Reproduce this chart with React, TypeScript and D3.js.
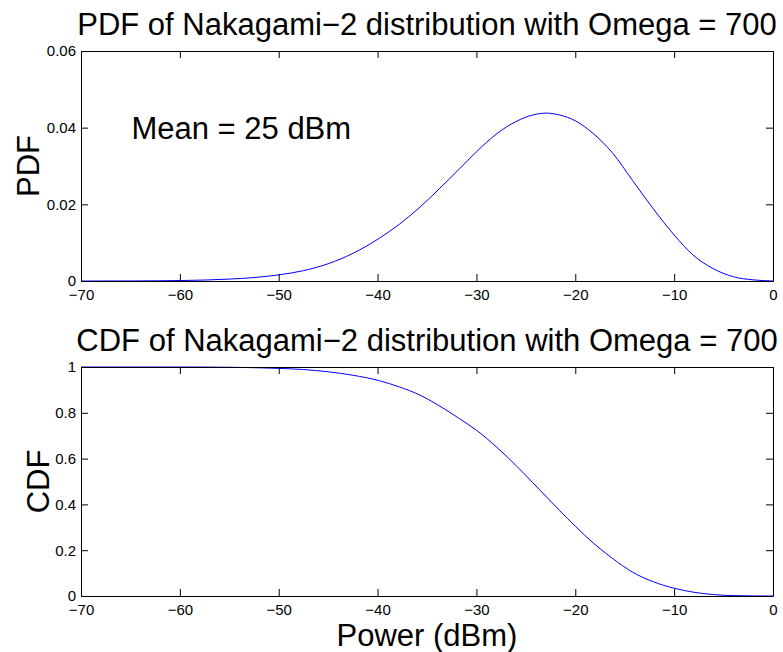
import React, { useEffect, useRef } from 'react';
import * as d3 from 'd3';

// values
const powerDbm = [-70, -65, -60, -57.5, -55, -52.5, -50, -47.5, -45, -42.5, -39.8, -37.8, -35.7, -33.7, -31.7, -30, -28, -26, -24.3, -22.9, -21.6, -20, -18.2, -16.2, -14.2, -12.1, -10, -8.1, -6.1, -4, -2, 0];
const pdfValues = [0, 0.00002, 0.00012, 0.00025, 0.0005, 0.0009, 0.0016, 0.0027, 0.0045, 0.0072, 0.0112, 0.0148, 0.0193, 0.0242, 0.0293, 0.0337, 0.0383, 0.0416, 0.0433, 0.0438, 0.0433, 0.0418, 0.0385, 0.0333, 0.0262, 0.0188, 0.012, 0.0068, 0.0033, 0.0011, 0.0003, 0];
const cdfValues = [1, 1, 1, 0.9997, 0.999, 0.997, 0.994, 0.989, 0.979, 0.964, 0.94, 0.913, 0.877, 0.829, 0.774, 0.724, 0.652, 0.57, 0.495, 0.432, 0.374, 0.305, 0.232, 0.163, 0.104, 0.062, 0.034, 0.017, 0.0065, 0.0017, 0.0003, 0];

const xTicks = [-70, -60, -50, -40, -30, -20, -10, 0];
const xTickLabels = ['\u221270', '\u221260', '\u221250', '\u221240', '\u221230', '\u221220', '\u221210', '0'];
const pdfTicks = [0, 0.02, 0.04, 0.06];
const pdfTickLabels = ['0', '0.02', '0.04', '0.06'];
const cdfTicks = [0, 0.2, 0.4, 0.6, 0.8, 1];
const cdfTickLabels = ['0', '0.2', '0.4', '0.6', '0.8', '1'];

const FONT = '"Liberation Sans", Arial, Helvetica, sans-serif';

const App = () => {
  const svgRef = useRef<SVGSVGElement>(null);

  useEffect(() => {
    const width = 783;
    const height = 652;
    const left = 81;
    const right = 773;
    const tick = 7;

    const svg = d3.select(svgRef.current)
      .attr('width', width)
      .attr('height', height);
    svg.selectAll('*').remove();

    const x = d3.scaleLinear().domain([-70, 0]).range([left, right]);

    const drawPanel = (
      top: number,
      bottom: number,
      yDomain: [number, number],
      yTicks: number[],
      yLabels: string[],
      values: number[],
      title: string,
      ylabel: string,
      ylabelX: number
    ) => {
      const y = d3.scaleLinear().domain(yDomain).range([bottom, top]);
      const g = svg.append('g');

      g.append('rect')
        .attr('x', left).attr('y', top)
        .attr('width', right - left).attr('height', bottom - top)
        .attr('fill', '#fff');

      // curve
      const line = d3.line<number>()
        .x((_, i) => x(powerDbm[i]))
        .y(d => y(d))
        .curve(d3.curveMonotoneX);
      g.append('path')
        .datum(values)
        .attr('d', line)
        .attr('fill', 'none')
        .attr('stroke', '#0000ff')
        .attr('stroke-width', 1);

      // axes with inward ticks on all four sides
      const bottomAxis = d3.axisBottom(x)
        .tickValues(xTicks)
        .tickFormat((_, i) => xTickLabels[i])
        .tickSizeInner(-tick).tickSizeOuter(0).tickPadding(8);
      const topAxis = d3.axisTop(x)
        .tickValues(xTicks).tickFormat(() => '')
        .tickSizeInner(-tick).tickSizeOuter(0);
      const leftAxis = d3.axisLeft(y)
        .tickValues(yTicks)
        .tickFormat((_, i) => yLabels[i])
        .tickSizeInner(-tick).tickSizeOuter(0).tickPadding(5);
      const rightAxis = d3.axisRight(y)
        .tickValues(yTicks).tickFormat(() => '')
        .tickSizeInner(-tick).tickSizeOuter(0);

      const axes = [
        g.append('g').attr('transform', `translate(0,${bottom})`).call(bottomAxis),
        g.append('g').attr('transform', `translate(0,${top})`).call(topAxis),
        g.append('g').attr('transform', `translate(${left},0)`).call(leftAxis),
        g.append('g').attr('transform', `translate(${right},0)`).call(rightAxis),
      ];
      axes.forEach(a => {
        a.selectAll('path, line').attr('stroke', '#000').attr('stroke-width', 1);
        a.selectAll('text')
          .style('font-family', FONT)
          .style('font-size', '15px')
          .attr('fill', '#000');
      });

      // title
      g.append('text')
        .attr('x', (left + right) / 2)
        .attr('y', top - 16)
        .attr('text-anchor', 'middle')
        .style('font-family', FONT)
        .style('font-size', '31px')
        .text(title);

      // y label
      g.append('text')
        .attr('transform', `translate(${ylabelX},${(top + bottom) / 2}) rotate(-90)`)
        .attr('text-anchor', 'middle')
        .style('font-family', FONT)
        .style('font-size', '31px')
        .text(ylabel);

      return y;
    };

    const yPdf = drawPanel(51, 281, [0, 0.06], pdfTicks, pdfTickLabels, pdfValues,
      'PDF of Nakagami\u22122 distribution with Omega = 700', 'PDF', 39);
    drawPanel(367, 596, [0, 1], cdfTicks, cdfTickLabels, cdfValues,
      'CDF of Nakagami\u22122 distribution with Omega = 700', 'CDF', 49);

    // annotation
    svg.append('text')
      .attr('x', x(-64.9))
      .attr('y', yPdf(0.0371))
      .style('font-family', FONT)
      .style('font-size', '31px')
      .text('Mean = 25 dBm');

    // x label
    svg.append('text')
      .attr('x', (left + right) / 2)
      .attr('y', 646)
      .attr('text-anchor', 'middle')
      .style('font-family', FONT)
      .style('font-size', '31px')
      .text('Power (dBm)');
  }, []);

  return (
    <svg ref={svgRef} style={{ position: 'absolute', left: 0, top: 0, background: '#fff' }}></svg>
  );
};

export default App;
